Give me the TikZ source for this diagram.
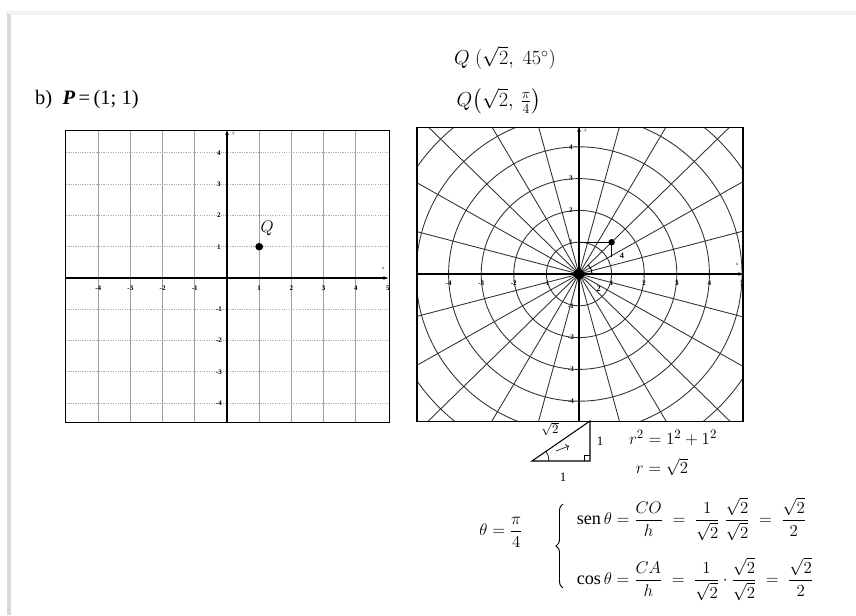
\documentclass[tikz,border=0pt]{standalone}
\usepackage{fontspec}
\setmainfont{Liberation Serif}
\usepackage{tikz}
\usetikzlibrary{
  shapes.geometric, calc, positioning, arrows.meta, decorations.pathreplacing
}
\usepackage{amsmath,amssymb}

\tikzset{
  gridline/.style={gray!75, line width=0.55pt},
  dotline/.style={gray!65, line width=0.7pt, dash pattern=on 1pt off 1pt},
  axisline/.style={black, line width=0.9pt, -{Stealth[length=4pt,width=3pt]}},
  ticklab/.style={font=\fontsize{6}{7}\selectfont\bfseries, inner sep=0.5pt},
  axlab/.style={font=\fontsize{4}{5}\selectfont, inner sep=0.5pt},
  polarline/.style={black!80, line width=0.75pt},
  hand/.style={font=\fontsize{18}{21}\selectfont, inner sep=1pt},
  handsmall/.style={font=\fontsize{11}{13}\selectfont, inner sep=1pt},
  eqn/.style={font=\fontsize{15.5}{18}\selectfont, inner sep=0.5pt}
}

\begin{document}
\begin{tikzpicture}[x=0.3mm, y=-0.3mm]
  \useasboundingbox (0,0) rectangle (856,615);
  % page edge
  \fill[gray!10] (6,11) rectangle (856,15);
  \fill[gray!30] (7,14) rectangle (11,615);

  \node[anchor=west, font=\fontsize{17.5}{21}\selectfont, inner sep=0pt] (title) at (35,100)
    {b)\ \ \textbf{\textit{P}}\,=\,(1; 1)};

  % cartesian grid
  \begin{scope}[shift={(227,278)}, x=9.66mm, y=9.39mm]
    \foreach \i in {-4,...,4}
      \draw[gridline] (\i,-4.6) -- (\i,4.72);
    \foreach \j in {-4,...,4}
      \draw[dotline] (-5,\j) -- (5.05,\j);
    \draw[line width=0.8pt] (-5.03,-4.6) rectangle (5.05,4.72);
    \draw[axisline] (-5.03,0) -- (5,0);
    \draw[axisline] (0,-4.6) -- (0,4.72);
    \node[axlab] (cx) at (4.85,0.3) {x};
    \node[axlab] (cy) at (0.2,4.6) {y};
    \foreach \i in {-4,-3,-2,-1,1,2,3,4,5}
      \node[ticklab] at (\i,-0.32) {\i};
    \foreach \j in {-4,-3,-2,-1,1,2,3,4}
      \node[ticklab] at (-0.25,\j) {\j};
    \fill (1,1) circle (0.12);
    \node[font=\fontsize{15}{18}\selectfont] (qlab) at (1.25,1.6) {$Q$};
  \end{scope}

  % polar grid
  \begin{scope}[shift={(579,274)}, x=9.78mm, y=9.54mm]
    \begin{scope}
      \clip (-4.97,-4.65) rectangle (5.03,4.62);
      \foreach \r in {1,...,6}
        \draw[polarline] (0,0) circle (\r);
      \foreach \a in {0,15,...,345}
        \draw[polarline] (0,0) -- (\a:8);
    \end{scope}
    \draw[line width=0.9pt] (-4.97,-4.65) rectangle (5.03,4.62);
    \draw[axisline] (-4.97,0) -- (5.03,0);
    \draw[axisline] (0,-4.65) -- (0,4.62);
    \node[axlab] (px) at (4.85,0.3) {x};
    \node[axlab] (py) at (0.2,4.5) {y};
    \foreach \i in {-4,-3,-2,-1,1,2,3,4,5}
      \node[ticklab] at (\i,-0.3) {\i};
    \foreach \j in {-4,-3,-2,-1,1,2,3,4}
      \node[ticklab] at (-0.25,\j) {\j};
    \fill (0,0) circle (0.17);
    % point Q
    \draw[line width=1pt] (0,1) -- (1,1);
    \draw[line width=0.9pt] (1,1) -- (1,0.55);
    \fill (1,1) circle (0.1);
    \draw[line width=0.8pt] (0.4,0) arc (0:45:0.4);
    \node[font=\fontsize{7}{8}\selectfont\bfseries, inner sep=0pt] (ang) at (1.32,0.56) {4};
    \node[font=\fontsize{7}{8}\selectfont\bfseries, inner sep=0pt] (ang2) at (0.6,-0.45) {2};
  \end{scope}

  % triangle
  \coordinate (tA) at (532,461);
  \coordinate (tB) at (590,461);
  \coordinate (tC) at (590,421);
  \draw[line width=0.9pt] (tA) -- (tB) -- (tC) -- cycle;
  \draw[line width=0.6pt] (584,461) -- (584,455) -- (590,455);
  \draw[line width=0.6pt] (549,461) arc (0:-35:17);
  \draw[line width=0.5pt, ->] (556,451) -- (569,446);
  \node[handsmall] (hyp) at (550,429) {$\sqrt{2}$};
  \node[handsmall] (leg1) at (600,441) {1};
  \node[handsmall] (leg2) at (563,477) {1};

  \node[font=\fontsize{15}{18}\selectfont] (rsq) at (673,438) {$r^2 = 1^2 + 1^2$};
  \node[font=\fontsize{15}{18}\selectfont] (rval) at (662,467) {$r = \sqrt{2}$};

  \node[hand] (qdeg) at (505,58) {$Q\ (\sqrt{2},\ 45^\circ)$};
  \node[hand] (qrad) at (499,101) {$Q\big(\sqrt{2},\,\tfrac{\pi}{4}\big)$};

  % trig
  \node[font=\fontsize{14}{17}\selectfont, inner sep=1pt] (theta) at (501,532) {$\theta = \dfrac{\pi}{4}$};
  \coordinate (braceb) at (563,588);
  \coordinate (bracet) at (563,504);
  \draw[line width=0.8pt, decorate, decoration={brace, amplitude=6pt}] (braceb) -- (bracet);
  \node[eqn, anchor=west] (sine) at (576,519)
    {$\mathrm{sen}\,\theta = \dfrac{CO}{h} \;=\; \dfrac{1}{\sqrt{2}}\;\dfrac{\sqrt{2}}{\sqrt{2}} \;=\; \dfrac{\sqrt{2}}{2}$};
  \node[eqn, anchor=west] (cosine) at (576,579)
    {$\cos\theta = \dfrac{CA}{h} \;=\; \dfrac{1}{\sqrt{2}}\cdot\dfrac{\sqrt{2}}{\sqrt{2}} \;=\; \dfrac{\sqrt{2}}{2}$};
\end{tikzpicture}
\end{document}
